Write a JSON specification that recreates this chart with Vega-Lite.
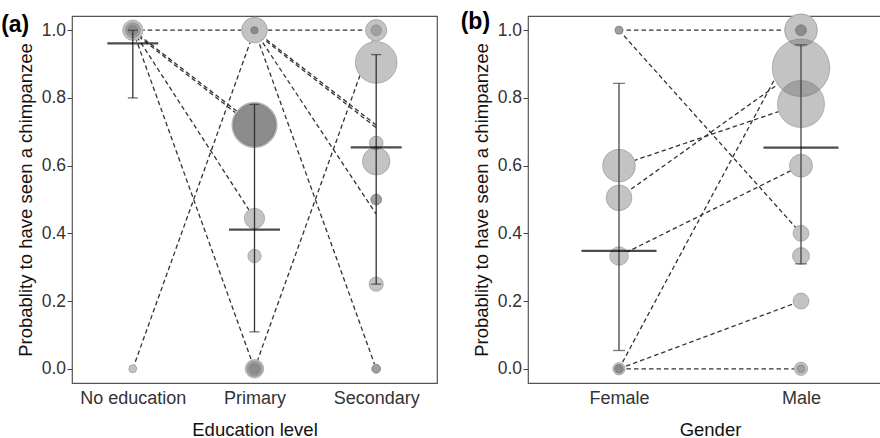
{
  "$schema": "https://vega.github.io/schema/vega-lite/v6.json",
  "background": "white",
  "padding": {"left": 0, "top": 10, "right": 0, "bottom": 0},
  "spacing": 22,
  "config": {
    "font": "Liberation Sans",
    "view": {"stroke": "#555555", "strokeWidth": 1.2},
    "axis": {
      "grid": false,
      "domain": false,
      "labelFont": "Liberation Sans",
      "titleFont": "Liberation Sans",
      "titleFontSize": 18.5,
      "titleFontWeight": "normal",
      "labelColor": "#333333",
      "titleColor": "#111111",
      "tickColor": "#444444",
      "tickSize": 5
    },
    "axisX": {"ticks": false, "labelAngle": 0, "labelFontSize": 18, "labelPadding": 6, "titlePadding": 13},
    "axisY": {"labelFontSize": 17.5, "labelPadding": 1.5, "titlePadding": 6}
  },
  "datasets": {
    "pointsA": [
      {"level": "No education", "p": 1.0, "n": 6.5},
      {"level": "No education", "p": 1.0, "n": 3.6},
      {"level": "No education", "p": 1.0, "n": 1.5},
      {"level": "No education", "p": 0.0, "n": 1.0},
      {"level": "Primary", "p": 1.0, "n": 10.4},
      {"level": "Primary", "p": 1.0, "n": 0.8},
      {"level": "Primary", "p": 1.0, "n": 0.8},
      {"level": "Primary", "p": 0.72, "n": 32.1},
      {"level": "Primary", "p": 0.72, "n": 28.4},
      {"level": "Primary", "p": 0.72, "n": 27.3},
      {"level": "Primary", "p": 0.444, "n": 6.5},
      {"level": "Primary", "p": 0.333, "n": 2.8},
      {"level": "Primary", "p": 0.0, "n": 5.4},
      {"level": "Primary", "p": 0.0, "n": 3.6},
      {"level": "Primary", "p": 0.0, "n": 1.8},
      {"level": "Secondary", "p": 1.0, "n": 7.1},
      {"level": "Secondary", "p": 1.0, "n": 1.8},
      {"level": "Secondary", "p": 0.905, "n": 27.3},
      {"level": "Secondary", "p": 0.667, "n": 3.0},
      {"level": "Secondary", "p": 0.613, "n": 11.9},
      {"level": "Secondary", "p": 0.5, "n": 1.8},
      {"level": "Secondary", "p": 0.5, "n": 1.8},
      {"level": "Secondary", "p": 0.25, "n": 3.2},
      {"level": "Secondary", "p": 0.0, "n": 1.2},
      {"level": "Secondary", "p": 0.0, "n": 1.2}
    ],
    "linesA": [
      {"id": 1, "level": "No education", "p": 1.0},
      {"id": 1, "level": "Primary", "p": 1.0},
      {"id": 1, "level": "Secondary", "p": 1.0},
      {"id": 2, "level": "No education", "p": 1.0},
      {"id": 2, "level": "Primary", "p": 0.72},
      {"id": 3, "level": "No education", "p": 0.995},
      {"id": 3, "level": "Primary", "p": 0.712},
      {"id": 4, "level": "No education", "p": 1.0},
      {"id": 4, "level": "Primary", "p": 0.444},
      {"id": 5, "level": "No education", "p": 1.0},
      {"id": 5, "level": "Primary", "p": 0.0},
      {"id": 6, "level": "No education", "p": 0.0},
      {"id": 6, "level": "Primary", "p": 1.0},
      {"id": 7, "level": "Primary", "p": 1.0},
      {"id": 7, "level": "Secondary", "p": 0.72},
      {"id": 8, "level": "Primary", "p": 0.995},
      {"id": 8, "level": "Secondary", "p": 0.712},
      {"id": 9, "level": "Primary", "p": 1.0},
      {"id": 9, "level": "Secondary", "p": 0.457},
      {"id": 10, "level": "Primary", "p": 1.0},
      {"id": 10, "level": "Secondary", "p": 0.0},
      {"id": 11, "level": "Primary", "p": 0.0},
      {"id": 11, "level": "Secondary", "p": 1.0}
    ],
    "statsA": [
      {"level": "No education", "mean": 0.961, "lo": 0.8, "hi": 1.0},
      {"level": "Primary", "mean": 0.411, "lo": 0.109, "hi": 0.781},
      {"level": "Secondary", "mean": 0.654, "lo": 0.25, "hi": 0.928}
    ],
    "pointsB": [
      {"gender": "Female", "p": 1.0, "n": 1.0},
      {"gender": "Female", "p": 1.0, "n": 1.0},
      {"gender": "Female", "p": 0.6, "n": 16.9},
      {"gender": "Female", "p": 0.505, "n": 10.4},
      {"gender": "Female", "p": 0.333, "n": 5.4},
      {"gender": "Female", "p": 0.0, "n": 2.4},
      {"gender": "Female", "p": 0.0, "n": 1.2},
      {"gender": "Female", "p": 0.0, "n": 1.0},
      {"gender": "Male", "p": 1.0, "n": 16.9},
      {"gender": "Male", "p": 1.0, "n": 1.8},
      {"gender": "Male", "p": 1.0, "n": 1.8},
      {"gender": "Male", "p": 0.889, "n": 52.0},
      {"gender": "Male", "p": 0.782, "n": 34.7},
      {"gender": "Male", "p": 0.6, "n": 8.3},
      {"gender": "Male", "p": 0.4, "n": 4.0},
      {"gender": "Male", "p": 0.333, "n": 4.5},
      {"gender": "Male", "p": 0.2, "n": 4.0},
      {"gender": "Male", "p": 0.0, "n": 2.8},
      {"gender": "Male", "p": 0.0, "n": 1.0}
    ],
    "linesB": [
      {"id": 1, "gender": "Female", "p": 1.0},
      {"id": 1, "gender": "Male", "p": 1.0},
      {"id": 2, "gender": "Female", "p": 1.0},
      {"id": 2, "gender": "Male", "p": 0.4},
      {"id": 3, "gender": "Female", "p": 0.6},
      {"id": 3, "gender": "Male", "p": 0.782},
      {"id": 4, "gender": "Female", "p": 0.505},
      {"id": 4, "gender": "Male", "p": 0.889},
      {"id": 5, "gender": "Female", "p": 0.333},
      {"id": 5, "gender": "Male", "p": 0.6},
      {"id": 6, "gender": "Female", "p": 0.0},
      {"id": 6, "gender": "Male", "p": 1.0},
      {"id": 7, "gender": "Female", "p": 0.0},
      {"id": 7, "gender": "Male", "p": 0.2},
      {"id": 8, "gender": "Female", "p": 0.0},
      {"id": 8, "gender": "Male", "p": 0.0}
    ],
    "statsB": [
      {"gender": "Female", "mean": 0.348, "lo": 0.054, "hi": 0.843},
      {"gender": "Male", "mean": 0.653, "lo": 0.31, "hi": 0.957}
    ]
  },
  "hconcat": [
    {
      "width": 365,
      "height": 367,
      "title": {"text": "(a)", "anchor": "start", "frame": "bounds", "fontSize": 23, "fontWeight": "bold", "color": "#000000", "offset": -22, "dx": -15},
      "encoding": {
        "x": {"field": "level", "type": "nominal", "title": "Education level",
              "scale": {"type": "point", "domain": ["No education", "Primary", "Secondary"], "range": [60.8, 304.2], "padding": 0}},
        "y": {"type": "quantitative", "title": "Probablity to have seen a chimpanzee",
              "scale": {"domain": [-0.042, 1.042], "nice": false, "zero": false},
              "axis": {"values": [0, 0.2, 0.4, 0.6, 0.8, 1.0], "format": ".1f"}}
      },
      "layer": [
        {"data": {"name": "linesA"}, "mark": {"type": "line", "color": "#333333", "strokeWidth": 1.3, "strokeDash": [4.5, 3]},
         "encoding": {"y": {"field": "p"}, "detail": {"field": "id", "type": "nominal"}}},
        {"data": {"name": "pointsA"}, "mark": {"type": "circle", "fill": "#ffffff", "fillOpacity": 1, "stroke": "#ffffff", "strokeWidth": 1},
         "encoding": {"y": {"field": "p"}, "size": {"field": "n", "type": "quantitative", "legend": null, "scale": {"type": "linear", "domain": [0, 52], "range": [0, 3318]}}}},
        {"data": {"name": "pointsA"}, "mark": {"type": "circle", "fill": "#6f6f6f", "fillOpacity": 0.42, "stroke": "#6f6f6f", "strokeOpacity": 0.42, "strokeWidth": 1},
         "encoding": {"y": {"field": "p"}, "size": {"field": "n", "type": "quantitative", "legend": null, "scale": {"type": "linear", "domain": [0, 52], "range": [0, 3318]}}}},
        {"data": {"name": "statsA"}, "mark": {"type": "rule", "color": "#333333", "strokeWidth": 1.3},
         "encoding": {"y": {"field": "lo"}, "y2": {"field": "hi"}}},
        {"data": {"name": "statsA"}, "mark": {"type": "tick", "color": "#333333", "size": 10, "thickness": 1.3},
         "encoding": {"y": {"field": "lo"}}},
        {"data": {"name": "statsA"}, "mark": {"type": "tick", "color": "#333333", "size": 10, "thickness": 1.3},
         "encoding": {"y": {"field": "hi"}}},
        {"data": {"name": "statsA"}, "mark": {"type": "tick", "color": "#000000", "size": 51, "thickness": 2.2},
         "encoding": {"y": {"field": "mean"}}}
      ]
    },
    {
      "width": 353,
      "height": 367,
      "title": {"text": "(b)", "anchor": "start", "frame": "bounds", "fontSize": 23, "fontWeight": "bold", "color": "#000000", "offset": -22, "dx": -11.5},
      "encoding": {
        "x": {"field": "gender", "type": "nominal", "title": "Gender",
              "scale": {"type": "point", "domain": ["Female", "Male"], "range": [91, 273], "padding": 0}},
        "y": {"type": "quantitative", "title": "Probablity to have seen a chimpanzee",
              "scale": {"domain": [-0.042, 1.042], "nice": false, "zero": false},
              "axis": {"values": [0, 0.2, 0.4, 0.6, 0.8, 1.0], "format": ".1f"}}
      },
      "layer": [
        {"data": {"name": "linesB"}, "mark": {"type": "line", "color": "#333333", "strokeWidth": 1.3, "strokeDash": [4.5, 3]},
         "encoding": {"y": {"field": "p"}, "detail": {"field": "id", "type": "nominal"}}},
        {"data": {"name": "pointsB"}, "mark": {"type": "circle", "fill": "#ffffff", "fillOpacity": 1, "stroke": "#ffffff", "strokeWidth": 1},
         "encoding": {"y": {"field": "p"}, "size": {"field": "n", "type": "quantitative", "legend": null, "scale": {"type": "linear", "domain": [0, 52], "range": [0, 3318]}}}},
        {"data": {"name": "pointsB"}, "mark": {"type": "circle", "fill": "#6f6f6f", "fillOpacity": 0.42, "stroke": "#6f6f6f", "strokeOpacity": 0.42, "strokeWidth": 1},
         "encoding": {"y": {"field": "p"}, "size": {"field": "n", "type": "quantitative", "legend": null, "scale": {"type": "linear", "domain": [0, 52], "range": [0, 3318]}}}},
        {"data": {"name": "statsB"}, "mark": {"type": "rule", "color": "#444444", "strokeWidth": 1.3},
         "encoding": {"y": {"field": "lo"}, "y2": {"field": "hi"}}},
        {"data": {"name": "statsB"}, "mark": {"type": "tick", "color": "#444444", "size": 12, "thickness": 1.3},
         "encoding": {"y": {"field": "lo"}}},
        {"data": {"name": "statsB"}, "mark": {"type": "tick", "color": "#444444", "size": 12, "thickness": 1.3},
         "encoding": {"y": {"field": "hi"}}},
        {"data": {"name": "statsB"}, "mark": {"type": "tick", "color": "#000000", "size": 75, "thickness": 2.2},
         "encoding": {"y": {"field": "mean"}}}
      ]
    }
  ]
}
